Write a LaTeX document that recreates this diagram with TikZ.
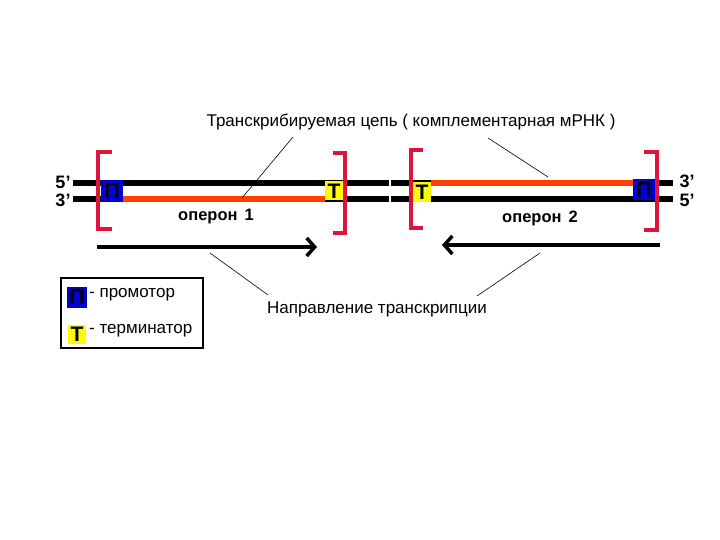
\documentclass[tikz,border=0pt]{standalone}
\usepackage{fontspec}
\setmainfont{Liberation Sans}
\usetikzlibrary{arrows.meta}
\definecolor{brk}{RGB}{222,20,60}
\definecolor{orn}{RGB}{255,64,0}
\definecolor{pblue}{RGB}{0,0,215}
\definecolor{tyel}{RGB}{255,250,0}
\tikzset{
  strand/.style={line width=6pt},
  rna/.style={line width=6pt, orn},
  bracket/.style={line width=4pt, brk},
  promoter/.style={fill=pblue, inner sep=0pt, font=\bfseries\fontsize{22}{22}\selectfont, text=black},
  termin/.style={fill=tyel, inner sep=0pt, font=\bfseries\fontsize{21}{21}\selectfont, text=black},
  dirarrow/.style={line width=3.5pt, -{Straight Barb[length=8pt,width=18pt,line width=3.5pt]}},
  leader/.style={line width=0.6pt},
  lbl/.style={font=\fontsize{17}{19}\selectfont, inner sep=0pt},
  blbl/.style={font=\bfseries\fontsize{16.5}{19}\selectfont, inner sep=0pt},
  end/.style={font=\bfseries\fontsize{18}{18}\selectfont, inner sep=0pt},
}
\begin{document}
\begin{tikzpicture}[x=1pt,y=-1pt]
\useasboundingbox[fill=white] (0,0) rectangle (720,540);
% strands
\coordinate (s1a) at (73,183); \coordinate (s1b) at (673,183);
\coordinate (s2a) at (73,199); \coordinate (s2b) at (673,199);
\draw[strand] (s1a) -- (s1b);
\draw[strand] (s2a) -- (s2b);
\fill[white] (389,179) rectangle (391,187);
\fill[white] (389,195) rectangle (391,203);
% boxes
\node[promoter, minimum width=22pt, minimum height=22pt] (p1) at (112,191) {П};
\node[termin, minimum width=18pt, minimum height=19pt] (t1) at (334,191) {Т};
\node[termin, minimum width=18pt, minimum height=20pt] (t2) at (422,192) {Т};
\node[promoter, minimum width=22pt, minimum height=21pt] (p2) at (644,190) {П};
% RNA
\draw[rna] (p1.east |- 0,199) -- (t1.west |- 0,199);
\draw[rna] (t2.east |- 0,183) -- (p2.west |- 0,183);
% brackets
\draw[bracket] (112,152) -- (98,152) -- (98,229) -- (112,229);
\draw[bracket] (333,153) -- (345,153) -- (345,233) -- (333,233);
\draw[bracket] (423,150) -- (411,150) -- (411,228) -- (423,228);
\draw[bracket] (644,152) -- (657,152) -- (657,230) -- (644,230);
% end labels
\node[end] (f5l) at (63,182) {5’};
\node[end] (f3l) at (63,200) {3’};
\node[end] (f3r) at (687,181) {3’};
\node[end] (f5r) at (687,200) {5’};
% operon labels
\node[blbl] (op1) at (216,217) {оперон\hspace{7pt}1};
\node[blbl] (op2) at (540,218) {оперон\hspace{7pt}2};
% arrows
\coordinate (a1s) at (97,247); \coordinate (a1e) at (317,247);
\coordinate (a2s) at (660,245); \coordinate (a2e) at (442,245);
\draw[dirarrow] (a1s) -- (a1e);
\draw[dirarrow] (a2s) -- (a2e);
% top label
\node[lbl] (top) at (411,122) {Транскрибируемая цепь ( комплементарная мРНК )};
\coordinate (l1a) at (293,137); \coordinate (l1b) at (242,198);
\coordinate (l2a) at (488,138); \coordinate (l2b) at (548,177);
\draw[leader] (l1a) -- (l1b);
\draw[leader] (l2a) -- (l2b);
% bottom label
\node[lbl] (dir) at (377,309) {Направление транскрипции};
\coordinate (d1a) at (210,253); \coordinate (d1b) at (268,295);
\coordinate (d2a) at (540,253); \coordinate (d2b) at (477,296);
\draw[leader] (d1a) -- (d1b);
\draw[leader] (d2a) -- (d2b);
% legend
\node[draw, line width=1.2pt, minimum width=142pt, minimum height=70pt, inner sep=0pt] (leg) at (132,313) {};
\node[promoter, minimum width=20pt, minimum height=21pt] (lp) at (77,297) {П};
\node[termin, minimum width=18pt, minimum height=19pt] (lt) at (77,334) {Т};
\node[lbl, anchor=west] (lpt) at (89,295) {- промотор};
\node[lbl, anchor=west] (ltt) at (89,331) {- терминатор};
\end{tikzpicture}
\end{document}
